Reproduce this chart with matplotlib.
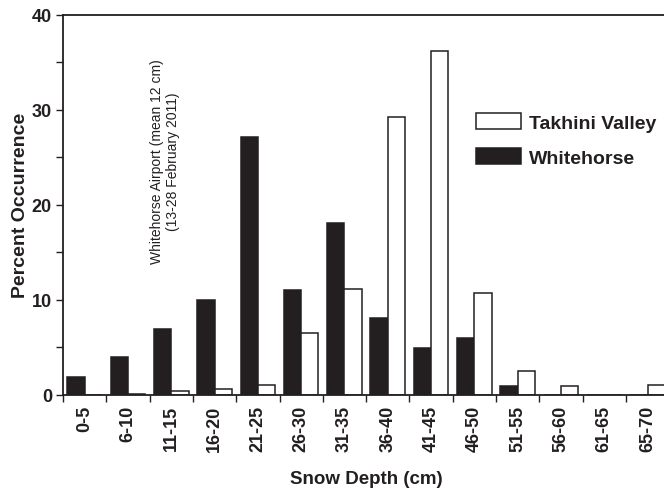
import matplotlib
matplotlib.use("Agg")
import matplotlib.pyplot as plt
import numpy as np
from matplotlib.patches import Patch

categories = ["0-5", "6-10", "11-15", "16-20", "21-25", "26-30", "31-35",
              "36-40", "41-45", "46-50", "51-55", "56-60", "61-65", "65-70"]
whitehorse = [1.9, 4.0, 6.9, 10.0, 27.1, 11.0, 18.1, 8.1, 4.9, 6.0, 0.9, 0, 0, 0]
takhini = [0, 0.1, 0.45, 0.6, 1.05, 6.5, 11.15, 29.2, 36.2, 10.7, 2.55, 0.9, 0, 1.0]
yticks = [0, 10, 20, 30, 40]

INK = "#231f20"
plt.rcParams["font.family"] = ["Liberation Sans", "DejaVu Sans"]

fig = plt.figure(figsize=(6.64, 4.89), dpi=100)
ax = fig.add_axes([63 / 664, 1 - 396 / 489, 606.2 / 664, (396 - 15.7) / 489])

x = np.arange(len(categories))
w = 0.4
ax.bar(x - w / 2, whitehorse, width=w, color=INK, edgecolor=INK, linewidth=1.1, label="Whitehorse")
ax.bar(x + w / 2, takhini, width=w, color="white", edgecolor=INK, linewidth=1.1, label="Takhini Valley")

ax.set_xlim(-0.5, len(categories) - 0.5)
ax.set_ylim(0, 40)
ax.set_yticks(yticks)
ax.set_yticklabels([str(v) for v in yticks], fontweight="bold", fontsize=13, color=INK)
ax.set_yticks(np.arange(5, 40, 10), minor=True)

ax.set_xticks(x)
ax.set_xticklabels(categories, rotation=90, fontweight="bold", fontsize=13, color=INK)
ax.set_xticks(np.arange(-0.5, len(categories), 1.0), minor=True)
ax.tick_params(axis="x", which="major", length=0, pad=7)
ax.tick_params(axis="x", which="minor", length=5, width=1, color=INK, direction="out")
ax.tick_params(axis="y", which="both", length=5, width=1, color=INK, direction="out", pad=3)

for s in ["left", "top", "bottom", "right"]:
    ax.spines[s].set_linewidth(1.3)
    ax.spines[s].set_color(INK)

ax.set_ylabel("Percent Occurrence", fontweight="bold", fontsize=14, color=INK, labelpad=2)
ax.set_xlabel("Snow Depth (cm)", fontweight="bold", fontsize=13.5, color=INK, labelpad=14)

ax.text(1.86, 24.6, "Whitehorse Airport (mean 12 cm)\n(13-28 February 2011)",
        rotation=90, ha="center", va="center", fontsize=10, color=INK,
        linespacing=1.2, multialignment="center")

handles = [Patch(facecolor="white", edgecolor=INK, linewidth=1.1, label="Takhini Valley"),
           Patch(facecolor=INK, edgecolor=INK, linewidth=1.1, label="Whitehorse")]
leg = ax.legend(handles=handles, loc="upper left", bbox_to_anchor=(476 / 664, 1 - 114 / 489),
                bbox_transform=fig.transFigure, frameon=False,
                prop={"weight": "bold", "size": 14}, handlelength=2.3, handleheight=0.88,
                handletextpad=0.42, labelspacing=0.86, borderaxespad=0, borderpad=0)
for t in leg.get_texts():
    t.set_color(INK)

fig.savefig("out.png", dpi=100)
